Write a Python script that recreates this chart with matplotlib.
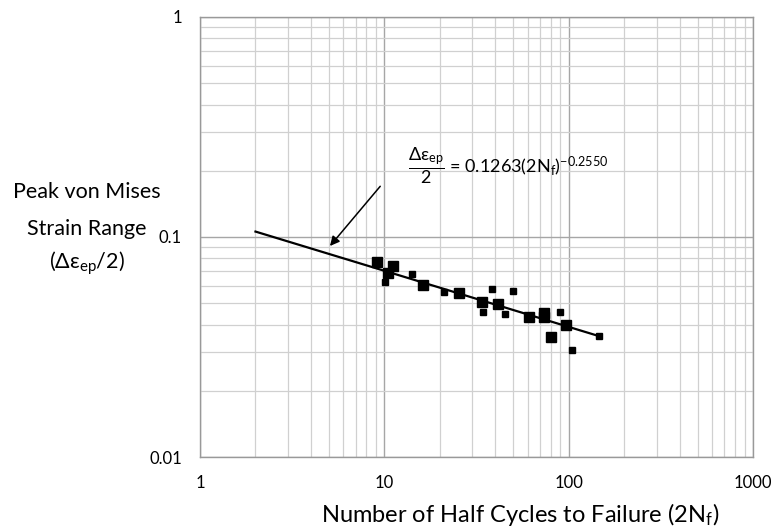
import numpy as np
import matplotlib
matplotlib.use("Agg")
import matplotlib.pyplot as plt
from matplotlib.ticker import FixedLocator, LogLocator, NullFormatter

plt.rcParams["font.family"] = ["Lato", "DejaVu Sans"]
plt.rcParams["mathtext.fontset"] = "custom"
plt.rcParams["mathtext.rm"] = "Lato"
plt.rcParams["mathtext.it"] = "Lato"
plt.rcParams["mathtext.bf"] = "Lato:bold"

# Test data (half cycles to failure, peak strain range)
cycles_big = [9.1, 11.1, 10.5, 16.2, 25.5, 34.0, 41.2, 61.0, 73.6, 73.6, 96.9, 80.0]
strain_big = [0.0772, 0.0738, 0.0688, 0.0605, 0.0555, 0.0506, 0.0494, 0.0431, 0.0450, 0.0431, 0.0397, 0.0351]
cycles_small = [10.1, 14.1, 21.1, 38.3, 50.1, 34.2, 45.2, 90.1, 104.8, 146.8]
strain_small = [0.0622, 0.0679, 0.0564, 0.0578, 0.0570, 0.0458, 0.0448, 0.0456, 0.0305, 0.0355]

# Fit: de/2 = 0.1263 (2Nf)^-0.2550
coef = 0.1263
expo = -0.2550
fit_range = [2, 150]

x_ticks = [1, 10, 100, 1000]
x_labels = ["1", "10", "100", "1000"]
y_ticks = [0.01, 0.1, 1]
y_labels = ["0.01", "0.1", "1"]

fig = plt.figure(figsize=(7.71, 5.29), dpi=100)
ax = fig.add_axes([0.2594, 0.1361, 0.7173, 0.8318])

ax.set_xscale("log")
ax.set_yscale("log")
ax.set_xlim(1, 1000)
ax.set_ylim(0.01, 1)

ax.xaxis.set_major_locator(FixedLocator(x_ticks))
ax.yaxis.set_major_locator(FixedLocator(y_ticks))
ax.set_xticklabels(x_labels)
ax.set_yticklabels(y_labels)
ax.xaxis.set_minor_locator(LogLocator(base=10, subs=np.arange(2, 10)))
ax.yaxis.set_minor_locator(LogLocator(base=10, subs=np.arange(2, 10)))
ax.xaxis.set_minor_formatter(NullFormatter())
ax.yaxis.set_minor_formatter(NullFormatter())
ax.tick_params(which="both", length=0)
ax.tick_params(axis="x", pad=13, labelsize=12)
ax.tick_params(axis="y", pad=13, labelsize=12)

ax.grid(True, which="major", color="#a6a6a6", lw=1.0)
ax.grid(True, which="minor", color="#d0d0d0", lw=0.9)
ax.set_axisbelow(True)
for s in ax.spines.values():
    s.set_color("#999999")
    s.set_linewidth(1.0)

# fitted line
xf = np.logspace(np.log10(fit_range[0]), np.log10(fit_range[1]), 50)
ax.plot(xf, coef * xf ** expo, color="black", lw=1.6, zorder=3)

# data points
ax.plot(cycles_big, strain_big, "s", color="black", ms=7.5, zorder=4)
ax.plot(cycles_small, strain_small, "s", color="black", ms=5, zorder=4)

# equation + arrow
ax.annotate("", xy=(5.07, 0.091), xytext=(9.5, 0.17),
            arrowprops=dict(arrowstyle="-|>", color="black", lw=1.1,
                            mutation_scale=14, shrinkA=0, shrinkB=0))
ax.text(13.5, 0.21,
        r"$\dfrac{\Delta\varepsilon_{ep}}{2}$" + " = 0.1263(2N$_f$)$^{-0.2550}$",
        fontsize=13, ha="left", va="center")

# axis titles
fig.text(0.113, 0.637, "Peak von Mises", fontsize=15.5, ha="center", va="center")
fig.text(0.113, 0.568, "Strain Range", fontsize=15.5, ha="center", va="center")
fig.text(0.113, 0.503, r"($\Delta\varepsilon_{ep}$/2)", fontsize=15.5, ha="center", va="center")
fig.text(0.675, 0.028, "Number of Half Cycles to Failure (2N$_f$)", fontsize=17, ha="center", va="center")

fig.savefig("out.png", dpi=100)
